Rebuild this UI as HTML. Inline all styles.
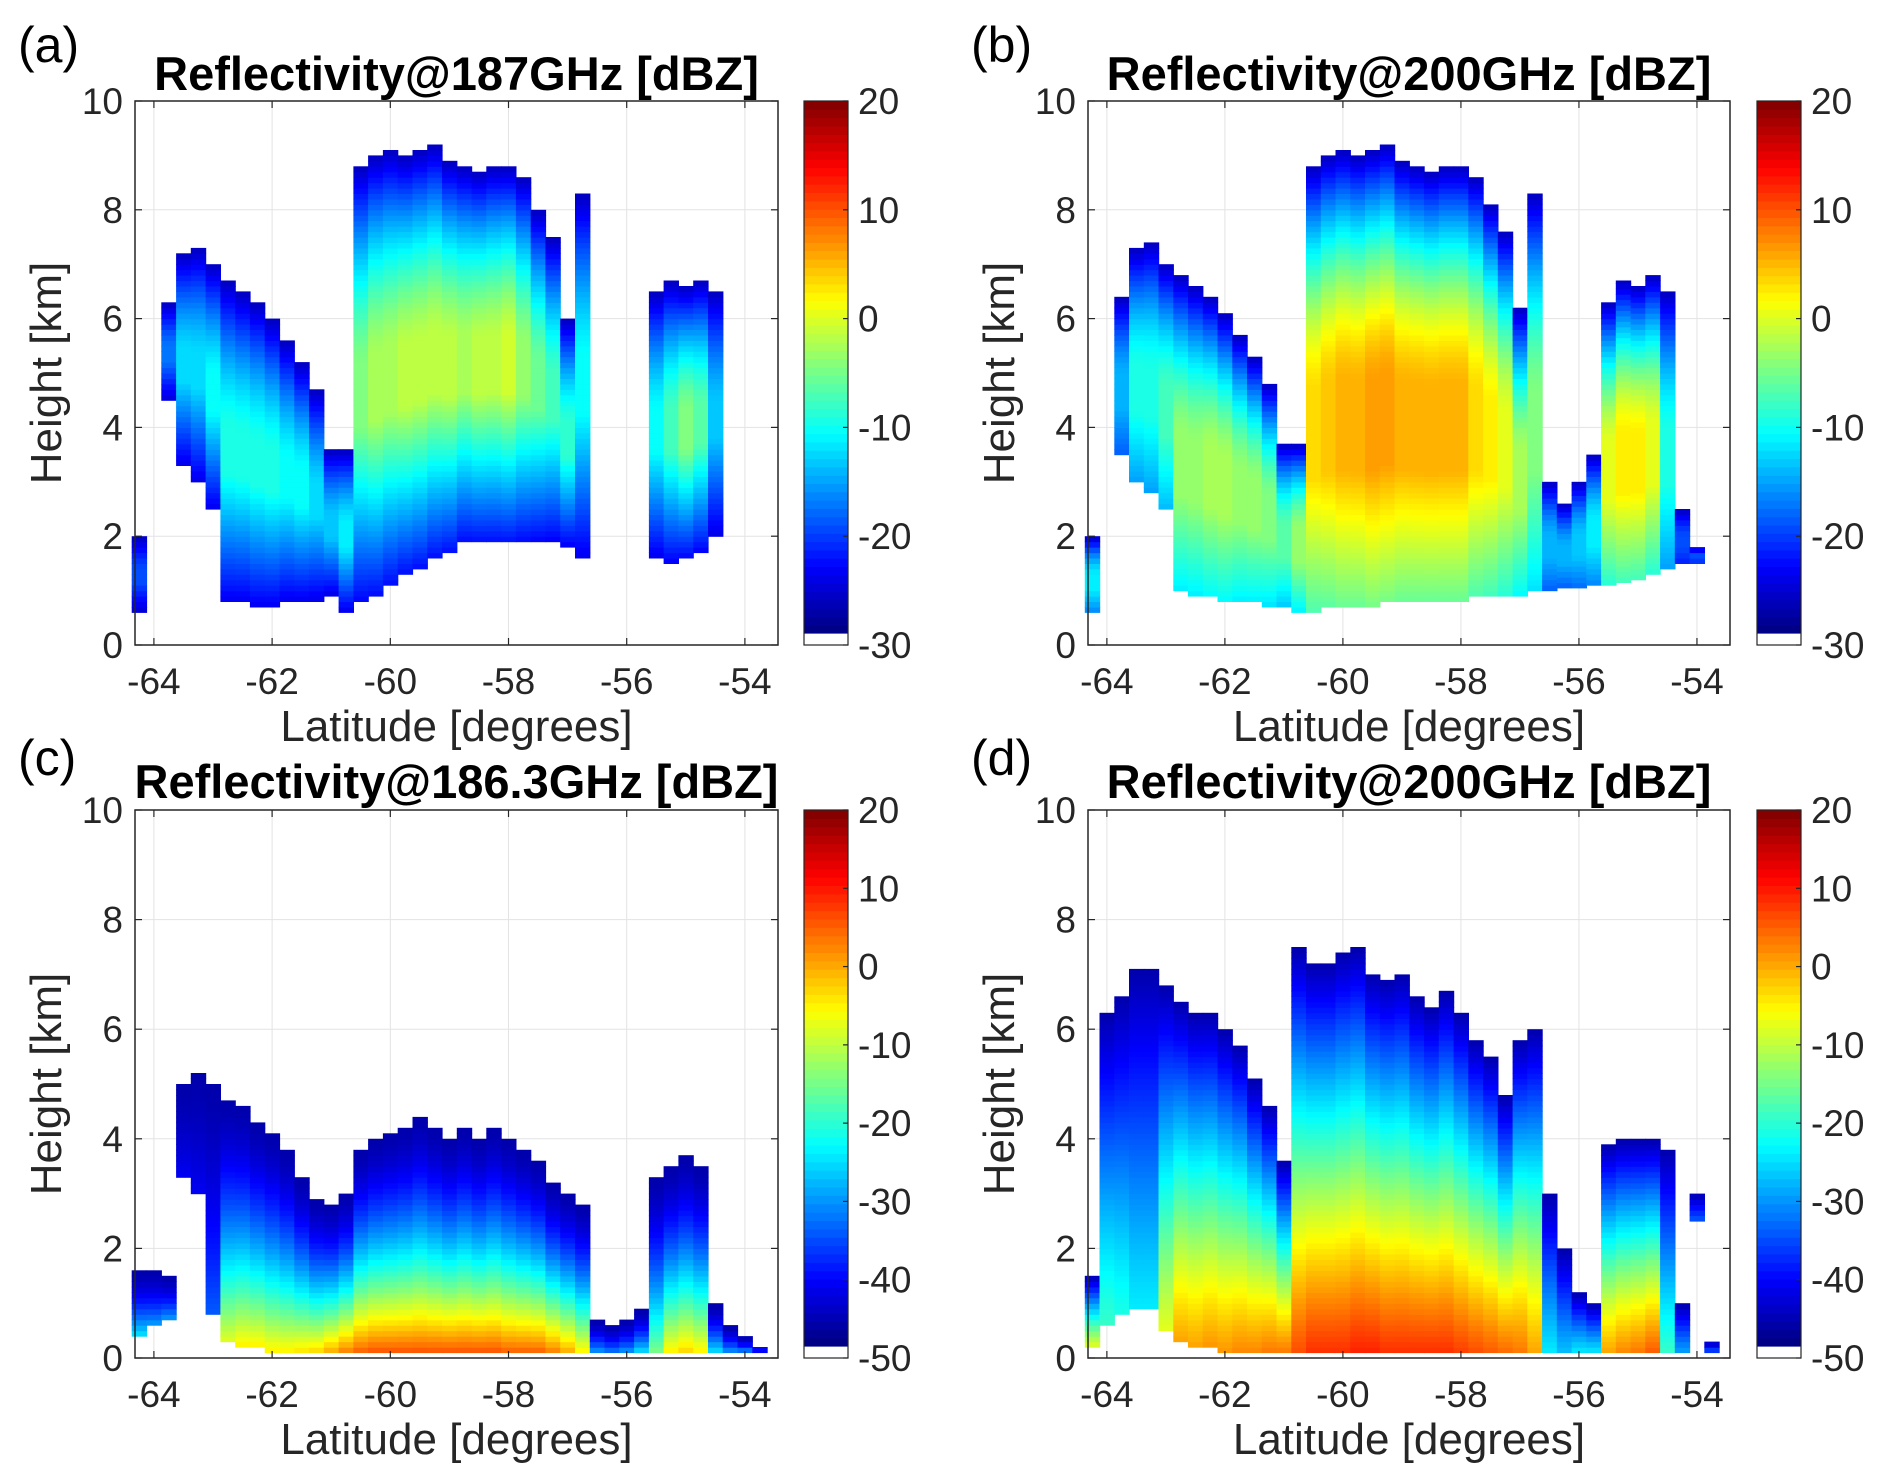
<!DOCTYPE html>
<html><head><meta charset="utf-8">
<style>
html,body{margin:0;padding:0;background:#fff;}
svg{display:block;font-family:"Liberation Sans","DejaVu Sans",sans-serif;}
</style></head>
<body>
<svg id="fig" width="1883" height="1479" viewBox="0 0 1883 1479" xmlns="http://www.w3.org/2000/svg"></svg>
<script>
// Latitude column centres (degrees), 0.25° spacing
const lats = [-64.25,-64.0,-63.75,-63.5,-63.25,-63.0,-62.75,-62.5,-62.25,-62.0,-61.75,-61.5,-61.25,-61.0,-60.75,-60.5,-60.25,-60.0,-59.75,-59.5,-59.25,-59.0,-58.75,-58.5,-58.25,-58.0,-57.75,-57.5,-57.25,-57.0,-56.75,-56.5,-56.25,-56.0,-55.75,-55.5,-55.25,-55.0,-54.75,-54.5,-54.25,-54.0,-53.75];
// Panel (a) 187 GHz: echo top, echo base (km), peak reflectivity (dBZ)
const topsA  = [2.0,0,6.3,7.2,7.3,7.0,6.7,6.5,6.3,6.0,5.6,5.2,4.7,3.6,3.6,8.8,9.0,9.1,9.0,9.1,9.2,8.9,8.8,8.7,8.8,8.8,8.6,8.0,7.5,6.0,8.3,0,0,0,0,6.5,6.7,6.6,6.7,6.5,0,0,0];
const basesA = [0.6,0,4.5,3.3,3.0,2.5,0.8,0.8,0.7,0.7,0.8,0.8,0.8,0.9,0.6,0.8,0.9,1.1,1.3,1.4,1.6,1.7,1.9,1.9,1.9,1.9,1.9,1.9,1.9,1.8,1.6,0,0,0,0,1.6,1.5,1.6,1.7,2.0,0,0,0];
const coresA = [-20,0,-18,-13,-13,-11,-10,-10,-10,-10,-11,-11,-13,-14,-12,-5,-3,-3,-2,-2,-2,-2,-3,-2,-2,-1,-4,-6,-8,-9,-11,0,0,0,0,-11,-8,-5,-7,-14,0,0,0];
// Panel (b) 200 GHz
const topsB  = [2.0,0,6.4,7.3,7.4,7.0,6.8,6.6,6.4,6.1,5.7,5.3,4.8,3.7,3.7,8.8,9.0,9.1,9.0,9.1,9.2,8.9,8.8,8.7,8.8,8.8,8.6,8.1,7.6,6.2,8.3,3.0,2.6,3.0,3.5,6.3,6.7,6.6,6.8,6.5,2.5,1.8,0];
const basesB = [0.6,0,3.5,3.0,2.8,2.5,1.0,0.9,0.9,0.8,0.8,0.8,0.7,0.7,0.6,0.6,0.7,0.7,0.7,0.7,0.8,0.8,0.8,0.8,0.8,0.8,0.9,0.9,0.9,0.9,1.0,1.0,1.05,1.05,1.1,1.1,1.15,1.2,1.3,1.4,1.5,1.5,0];
const coresB = [-12,0,-15,-10,-10,-8,-4,-4,-3,-3,-4,-4,-5,-7,-4,3,4,5,5,6,6,5,5,5,5,5,3,2,0,-3,-5,-15,-15,-14,-12,0,2,2,0,-10,-20,-20,0];
// Panel (c) 186.3 GHz: value at ground (dBZ)
const topsC  = [1.6,1.6,1.5,5.0,5.2,5.0,4.7,4.6,4.3,4.1,3.8,3.3,2.9,2.8,3.0,3.8,4.0,4.1,4.2,4.4,4.2,4.0,4.2,4.0,4.2,4.0,3.8,3.6,3.2,3.0,2.8,0.7,0.6,0.7,0.9,3.3,3.5,3.7,3.5,1.0,0.6,0.4,0.2];
const basesC = [0.4,0.6,0.7,3.3,3.0,0.8,0.3,0.2,0.2,0.1,0.1,0.1,0.1,0.1,0.1,0.1,0.1,0.1,0.1,0.1,0.1,0.1,0.1,0.1,0.1,0.1,0.1,0.1,0.1,0.1,0.1,0.1,0.1,0.1,0.1,0.1,0.1,0.1,0.1,0.1,0.1,0.1,0.1];
const coresC = [-25,-30,-30,-42,-42,-35,-8,-5,-5,-5,-5,-4,-3,0,3,5,6,6,6,6,6,6,6,6,6,5,5,5,3,0,-5,-30,-32,-30,-25,-15,-5,-3,-5,-25,-30,-30,-30];
// Panel (d) 200 GHz (ground referenced)
const topsD  = [1.5,6.3,6.6,7.1,7.1,6.8,6.5,6.3,6.3,6.0,5.7,5.1,4.6,3.6,7.5,7.2,7.2,7.4,7.5,7.0,6.9,7.0,6.6,6.4,6.7,6.3,5.8,5.5,4.8,5.8,6.0,3.0,2.0,1.2,1.0,3.9,4.0,4.0,4.0,3.8,1.0,3.0,0.3];
const basesD = [0.2,0.6,0.8,0.9,0.9,0.5,0.3,0.2,0.2,0.1,0.1,0.1,0.1,0.1,0.1,0.1,0.1,0.1,0.1,0.1,0.1,0.1,0.1,0.1,0.1,0.1,0.1,0.1,0.1,0.1,0.1,0.1,0.1,0.1,0.1,0.1,0.1,0.1,0.1,0.1,0.1,2.5,0.1];
const coresD = [-8,-20,-22,-25,-25,-8,0,0,1,1,2,2,3,3,6,8,8,8,9,9,8,8,8,8,8,7,6,5,4,3,0,-25,-28,-25,-25,0,2,3,5,-20,-30,-35,-35];

const yTicks = [0,2,4,6,8,10];
const xTicks = [-64,-62,-60,-58,-56,-54];
const cbTicksTop = [20,10,0,-10,-20,-30];
const cbTicksBot = [20,10,0,-10,-20,-30,-40,-50];

const NS='http://www.w3.org/2000/svg';
const svg=document.getElementById('fig');
function mk(tag,attrs,parent){const e=document.createElementNS(NS,tag);for(const k in attrs)e.setAttribute(k,attrs[k]);(parent||svg).appendChild(e);return e;}

function jet(t){
  t=Math.max(0,Math.min(1,t));
  function f(x){return Math.max(0,Math.min(1,x));}
  const r=f(Math.min(4*t-1.5,-4*t+4.5)), g=f(Math.min(4*t-0.5,-4*t+3.5)), b=f(Math.min(4*t+0.5,-4*t+2.5));
  return 'rgb('+Math.round(r*255)+','+Math.round(g*255)+','+Math.round(b*255)+')';
}

const LAT0=-64.32, LAT1=-53.44;
const panels=[
 {id:'a',L:135,R:778,T:101,B:645,cbL:804,cbR:848,title:'Reflectivity@187GHz [dBZ]',lab:'(a)',labY:62,titleY:90,
  tops:topsA,bases:basesA,cores:coresA,vmin:-30,vmax:20,cb:cbTicksTop,mode:'midA'},
 {id:'b',L:1088,R:1730,T:101,B:645,cbL:1757,cbR:1801,title:'Reflectivity@200GHz [dBZ]',lab:'(b)',labY:62,titleY:90,
  tops:topsB,bases:basesB,cores:coresB,vmin:-30,vmax:20,cb:cbTicksTop,mode:'midB'},
 {id:'c',L:135,R:778,T:810,B:1358,cbL:804,cbR:848,title:'Reflectivity@186.3GHz [dBZ]',lab:'(c)',labY:775,titleY:798,
  tops:topsC,bases:basesC,cores:coresC,vmin:-50,vmax:20,cb:cbTicksBot,mode:'gC'},
 {id:'d',L:1088,R:1730,T:810,B:1358,cbL:1757,cbR:1801,title:'Reflectivity@200GHz [dBZ]',lab:'(d)',labY:775,titleY:798,
  tops:topsD,bases:basesD,cores:coresD,vmin:-50,vmax:20,cb:cbTicksBot,mode:'gD'}
];

function profile(mode,t){
  if(mode==='midA'){ if(t<0.4)return 0.15+0.85*(t/0.4); if(t<0.55)return 1; const u=(t-0.55)/0.45; return 1-Math.pow(u,1.4); }
  if(mode==='midB'){ if(t<0.3)return 0.65+0.35*(t/0.3); if(t<0.5)return 1; const u=(t-0.5)/0.5; return 1-Math.pow(u,1.5); }
  if(mode==='gC'){return Math.pow(1-t,1.5);}
  return 1-Math.pow(t,1.1);
}

panels.forEach(p=>{
  const g=mk('g',{});
  
  
  const xs=v=>p.L+(v-LAT0)/(LAT1-LAT0)*(p.R-p.L);
  const ys=v=>p.B-v/10*(p.B-p.T);
  xTicks.forEach(v=>{const l=mk('line',{x1:xs(v),x2:xs(v),y1:p.T,y2:p.B,stroke:'#e3e3e3','stroke-width':1},g);
    });
  yTicks.forEach(v=>{const l=mk('line',{x1:p.L,x2:p.R,y1:ys(v),y2:ys(v),stroke:'#e3e3e3','stroke-width':1},g);
    });
  const hm=mk('g',{},g);
  
  
  const dz=0.1;
  lats.forEach((lat,i)=>{
    const top=p.tops[i],base=p.bases[i],core=p.cores[i];
    if(!(top>base))return;
    const x0=xs(lat-0.125),x1=xs(lat+0.125);
    for(let h=base;h<top-1e-6;h+=dz){
      const h2=Math.min(top,h+dz);
      const t=((h+h2)/2-base)/(top-base);
      const lo=p.vmin+3;
      const v=lo+(core-lo)*profile(p.mode,t);
      const r=mk('rect',{x:x0.toFixed(1),y:ys(h2).toFixed(1),width:(x1-x0+0.6).toFixed(1),height:(ys(h)-ys(h2)+0.6).toFixed(1),fill:jet((v-p.vmin)/(p.vmax-p.vmin))},hm);
      
      
    }
  });
  const box=mk('rect',{x:p.L,y:p.T,width:p.R-p.L,height:p.B-p.T,fill:'none',stroke:'#262626','stroke-width':1.5},g);
  
  xTicks.forEach(v=>{
    mk('line',{x1:xs(v),x2:xs(v),y1:p.B,y2:p.B-7,stroke:'#262626','stroke-width':1.2},g);
    mk('line',{x1:xs(v),x2:xs(v),y1:p.T,y2:p.T+7,stroke:'#262626','stroke-width':1.2},g);
    const t=mk('text',{x:xs(v),y:p.B+49,'text-anchor':'middle','font-size':37,fill:'#262626'},g);
    t.textContent=v;
  });
  yTicks.forEach(v=>{
    mk('line',{x1:p.L,x2:p.L+7,y1:ys(v),y2:ys(v),stroke:'#262626','stroke-width':1.2},g);
    mk('line',{x1:p.R,x2:p.R-7,y1:ys(v),y2:ys(v),stroke:'#262626','stroke-width':1.2},g);
    const t=mk('text',{x:p.L-12,y:ys(v)+13,'text-anchor':'end','font-size':37,fill:'#262626'},g);
    t.textContent=v;
  });
  const xl=mk('text',{x:(p.L+p.R)/2,y:p.B+96,'text-anchor':'middle','font-size':44,fill:'#262626'},g);
  xl.textContent='Latitude [degrees]';
  const cy=(p.T+p.B)/2;
  const yl=mk('text',{x:p.L-74,y:cy,'text-anchor':'middle','font-size':44,fill:'#262626',transform:'rotate(-90 '+(p.L-74)+' '+cy+')'},g);
  yl.textContent='Height [km]';
  const ti=mk('text',{x:(p.L+p.R)/2,y:p.titleY,'text-anchor':'middle','font-size':47,'font-weight':'bold',fill:'#000'},g);
  ti.textContent=p.title;
  const lb=mk('text',{x:p.L-117,y:p.labY,'font-size':50,fill:'#000'},g);
  lb.textContent=p.lab;
  const cb=mk('g',{},g);
  
  
  const cbT=p.T, cbB=p.B, white=12, span=cbB-white-cbT;
  const n=64;
  for(let k=0;k<n;k++){
    const r=mk('rect',{x:p.cbL,y:(cbT+span*(1-(k+1)/n)).toFixed(2),width:p.cbR-p.cbL,height:(span/n+0.6).toFixed(2),fill:jet((k+0.5)/n)},cb);
    
  }
  mk('rect',{x:p.cbL,y:cbT,width:p.cbR-p.cbL,height:cbB-cbT,fill:'none',stroke:'#262626','stroke-width':1.2},cb);
  p.cb.forEach((v,k)=>{
    const y=cbT+(cbB-cbT)*k/(p.cb.length-1);
    mk('line',{x1:p.cbR,x2:p.cbR-5,y1:y,y2:y,stroke:'#262626','stroke-width':1.2},cb);
    const t=mk('text',{x:p.cbR+10,y:y+13,'font-size':37,fill:'#262626'},cb);
    t.textContent=v;
  });
});
</script>
</body></html>
